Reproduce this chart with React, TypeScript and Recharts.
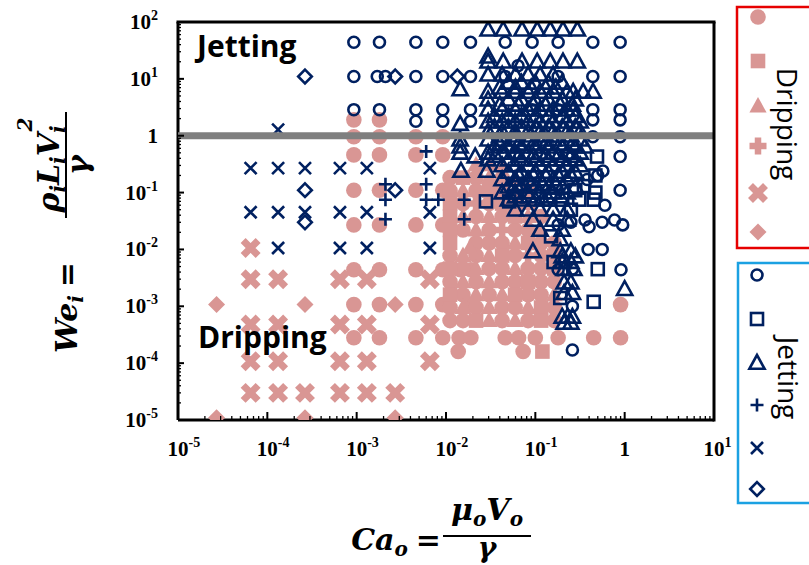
import React from 'react';
import { ScatterChart, Scatter, XAxis, YAxis } from 'recharts';

type Pt = [number, number];

const NAVY = '#002060';
const PINK = '#D99694';

// axis ticks
const xMajor = [1e-5, 1e-4, 1e-3, 1e-2, 1e-1, 1, 10];
const xMajorLabels: [string, string][] = [
  ['10', '-5'], ['10', '-4'], ['10', '-3'], ['10', '-2'], ['10', '-1'], ['1', ''], ['10', '1'],
];
const yMajor = [1e-5, 1e-4, 1e-3, 1e-2, 1e-1, 1, 10, 100];
const yMajorLabels: [string, string][] = [
  ['10', '-5'], ['10', '-4'], ['10', '-3'], ['10', '-2'], ['10', '-1'], ['1', ''], ['10', '1'], ['10', '2'],
];

// boundary We = 1
const boundaryCa = [1e-5, 10];
const boundaryWe = [1, 1];

// ---------- Dripping (filled, pink) ----------
const dripCircle: Pt[] = [
  [9.3e-4, 1.9], [1.8e-3, 1.9],
  [9.3e-4, 0.96], [1.8e-3, 0.96], [4.6e-3, 0.96], [9.2e-3, 0.96],
  [9.3e-4, 0.46], [1.8e-3, 0.46], [4.6e-3, 0.46], [9.2e-3, 0.46],
  [9.3e-4, 0.11], [1.8e-3, 0.11], [4.6e-3, 0.11], [9.2e-3, 0.11],
  [9.3e-4, 0.027], [1.8e-3, 0.027], [4.6e-3, 0.027], [9.2e-3, 0.027],
  [9.3e-4, 0.0044], [1.8e-3, 0.0044], [4.6e-3, 0.0044], [9.2e-3, 0.0044], [1.45e-2, 0.0044], [1.9e-2, 0.0044],
  [9.3e-4, 0.00107], [1.8e-3, 0.00107], [4.6e-3, 0.00107], [9.2e-3, 0.00107], [1.9e-2, 0.00107],
  [9.3e-4, 2.8e-4], [1.8e-3, 2.8e-4], [4.6e-3, 2.8e-4], [9.2e-3, 2.8e-4], [1.4e-2, 2.8e-4],
  [1.9e-2, 2.8e-4], [4.6e-2, 2.8e-4], [6.5e-2, 2.8e-4], [0.1, 2.8e-4], [0.18, 2.8e-4], [0.45, 2.8e-4], [0.9, 2.8e-4],
  [0.9, 0.00107], [1.37e-2, 1.6e-4], [7.3e-2, 1.6e-4],
  [0.0111, 0.183], [0.0217, 0.183], [0.0425, 0.183],
  [0.0111, 0.108], [0.0217, 0.108], [0.0425, 0.108], [0.083, 0.108],
  [0.0155, 0.064], [0.0304, 0.064], [0.0594, 0.064],
  [0.0217, 0.038], [0.0425, 0.038], [0.116, 0.038],
  [0.0155, 0.022], [0.0304, 0.022], [0.0594, 0.022], [0.083, 0.022],
  [0.0217, 0.013], [0.0304, 0.013], [0.0425, 0.013], [0.116, 0.013], [0.163, 0.013],
  [0.0111, 0.0078], [0.0217, 0.0078], [0.0594, 0.0078], [0.116, 0.0078],
  [0.0155, 0.0046], [0.0304, 0.0046], [0.0425, 0.0046], [0.083, 0.0046], [0.116, 0.0046],
  [0.0111, 0.0027], [0.0217, 0.0027], [0.0425, 0.0027], [0.0594, 0.0027], [0.116, 0.0027], [0.163, 0.0027],
  [0.0155, 0.0016], [0.0304, 0.0016], [0.083, 0.0016], [0.116, 0.0016],
  [0.0111, 9.5e-4], [0.0217, 9.5e-4], [0.0425, 9.5e-4], [0.0594, 9.5e-4], [0.163, 9.5e-4],
  [0.0111, 5.6e-4], [0.0155, 5.6e-4], [0.0425, 5.6e-4], [0.083, 5.6e-4], [0.163, 5.6e-4],
];
const dripSquare: Pt[] = [
  [0.0155, 0.183], [0.0304, 0.108], [0.0111, 0.064], [0.0425, 0.064], [0.0111, 0.038], [0.0594, 0.038],
  [0.0111, 0.022], [0.0111, 0.013], [0.083, 0.013], [0.0425, 0.0078], [0.163, 0.0078],
  [0.0111, 0.0046], [0.163, 0.0046], [0.083, 0.0027], [0.0111, 0.0016], [0.0594, 0.0016],
  [0.116, 9.5e-4], [0.0217, 5.6e-4], [0.116, 5.6e-4], [0.12, 1.6e-4],
];
const dripTriangle: Pt[] = [
  [0.0217, 0.31], [0.0304, 0.31], [0.0425, 0.31],
  [0.0304, 0.183], [0.0594, 0.183], [0.0155, 0.108], [0.0594, 0.108], [0.083, 0.064],
  [0.0155, 0.038], [0.0304, 0.038], [0.083, 0.038], [0.0217, 0.022], [0.116, 0.022],
  [0.0185, 0.0106], [0.0594, 0.013], [0.0155, 0.0078], [0.0304, 0.0078],
  [0.0217, 0.0046], [0.0594, 0.0046], [0.0155, 0.0027], [0.0304, 0.0027],
  [0.0217, 0.0016], [0.0425, 0.0016], [0.163, 0.0016],
  [0.0155, 9.5e-4], [0.0304, 9.5e-4], [0.083, 9.5e-4], [0.0304, 5.6e-4], [0.0594, 5.6e-4],
];
const dripPlus: Pt[] = [[0.0217, 0.064], [0.0425, 0.022], [0.083, 0.0078]];
const dripCross: Pt[] = [
  [6.5e-5, 0.0106],
  [6.5e-5, 0.003], [1.32e-4, 0.003], [6.5e-4, 0.003], [1.3e-3, 0.003], [6.6e-3, 0.003],
  [6.5e-5, 4.8e-4], [1.32e-4, 4.8e-4], [6.5e-4, 4.8e-4], [1.3e-3, 4.8e-4], [6.6e-3, 4.8e-4],
  [6.5e-5, 1.08e-4], [1.32e-4, 1.08e-4], [6.5e-4, 1.08e-4], [1.3e-3, 1.08e-4], [6.6e-3, 1.08e-4],
  [6.5e-5, 3e-5], [1.32e-4, 3e-5], [2.64e-4, 3e-5], [6.5e-4, 3e-5], [1.3e-3, 3e-5], [2.7e-3, 3e-5],
];
const dripDiamond: Pt[] = [
  [2.7e-5, 1.07e-3], [2.64e-4, 1.07e-3], [2.7e-3, 1.07e-3],
  [2.7e-5, 1.1e-5], [2.64e-4, 1.1e-5], [2.7e-3, 1.1e-5],
];

// ---------- Jetting (open, navy) ----------
const jetCircle: Pt[] = [
  [9.3e-4, 44], [1.8e-3, 44], [4.6e-3, 44], [9.2e-3, 44], [1.88e-2, 44], [4.6e-2, 44], [9.2e-2, 44], [0.18, 44], [0.44, 44], [0.89, 44],
  [9.3e-4, 11], [1.7e-3, 11], [2.1e-3, 11], [4.6e-3, 11], [9.2e-3, 11], [1.88e-2, 11], [4.6e-2, 11], [0.064, 17], [0.18, 11], [0.44, 11], [0.89, 11],
  [9.3e-4, 2.87], [1.8e-3, 2.87], [4.6e-3, 2.87], [9.2e-3, 2.87], [1.88e-2, 2.87], [0.092, 2.87], [0.18, 2.87], [0.44, 2.87], [0.89, 2.87],
  [4.6e-3, 1.8], [9.2e-3, 1.8], [1.88e-2, 1.8], [0.44, 1.9], [0.89, 1.9],
  [0.44, 0.96], [0.89, 0.96], [0.89, 0.43], [0.57, 0.24], [0.5, 0.2], [0.38, 0.17], [0.89, 0.11],
  [0.6, 0.06], [0.36, 0.033], [0.4, 0.025], [0.56, 0.03], [0.77, 0.033], [0.95, 0.027], [0.18, 0.027], [0.25, 0.03],
  [0.39, 0.01], [0.56, 0.01], [0.18, 0.0044], [0.26, 0.0045], [0.91, 0.0044], [0.26, 0.001], [0.26, 1.7e-4],
];
const jetSquare: Pt[] = [
  [0.028, 0.07], [0.051, 0.07], [0.146, 0.075], [0.2, 0.075], [0.31, 0.075], [0.45, 0.075],
  [0.49, 0.43], [0.47, 0.1], [0.28, 0.11], [0.15, 0.017], [0.16, 0.006], [0.5, 0.0045],
  [0.19, 0.0014], [0.45, 0.0012], [0.47, 0.2], [0.35, 0.13], [0.25, 0.05],
];
const jetTriangle: Pt[] = [
  [0.0296, 73], [0.0437, 73], [0.071, 73], [0.105, 73], [0.147, 73], [0.204, 73], [0.295, 73],
  [0.0296, 24.5],
  [0.0296, 20], [0.0437, 20], [0.071, 20], [0.105, 20], [0.147, 20], [0.204, 20], [0.295, 20],
  [0.0296, 11.8], [0.0425, 11.8], [0.06, 11.8], [0.083, 11.8], [0.113, 11.8], [0.158, 11.8],
  [0.05, 8.5], [0.07, 8.5], [0.1, 8.5], [0.14, 8.5], [0.2, 8.5],
  [0.04, 7], [0.06, 7], [0.09, 7], [0.13, 7], [0.17, 7],
  [0.0144, 6.5], [0.0296, 5.9], [0.0425, 5.9], [0.0594, 5.9], [0.083, 5.9], [0.113, 5.9], [0.158, 5.9],
  [0.227, 5.9], [0.265, 5.9], [0.343, 5.9], [0.443, 5.9],
  [0.0296, 4.3], [0.05, 4.3], [0.07, 4.3], [0.1, 4.3], [0.14, 4.3], [0.2, 4.3], [0.28, 4.3],
  [0.04, 3.5], [0.065, 3.5], [0.095, 3.5], [0.13, 3.5], [0.19, 3.5], [0.26, 3.5],
  [0.0296, 2.87], [0.0425, 2.87], [0.0594, 2.87], [0.083, 2.87], [0.113, 2.87], [0.158, 2.87], [0.227, 2.87], [0.265, 2.87],
  [0.035, 2.2], [0.05, 2.2], [0.07, 2.2], [0.1, 2.2], [0.14, 2.2], [0.2, 2.2], [0.28, 2.2],
  [0.0144, 1.6], [0.0296, 1.76], [0.0425, 1.76], [0.0594, 1.76], [0.083, 1.76], [0.113, 1.76], [0.158, 1.76], [0.227, 1.76], [0.318, 1.76],
  [0.035, 1.4], [0.05, 1.4], [0.07, 1.4], [0.1, 1.4], [0.14, 1.4], [0.2, 1.4], [0.28, 1.4],
  [0.0296, 1.18], [0.0425, 1.18], [0.0594, 1.18], [0.083, 1.18], [0.113, 1.18], [0.158, 1.18], [0.227, 1.18], [0.318, 1.18],
  [0.04, 1.0], [0.06, 1.0], [0.09, 1.0], [0.13, 1.0], [0.18, 1.0], [0.25, 1.0],
  [0.0144, 0.85], [0.0296, 0.85], [0.0425, 0.85], [0.0594, 0.85], [0.083, 0.85], [0.113, 0.85], [0.158, 0.85], [0.227, 0.85], [0.318, 0.85],
  [0.04, 0.72], [0.065, 0.72], [0.095, 0.72], [0.13, 0.72], [0.19, 0.72], [0.26, 0.72],
  [0.0144, 0.64], [0.035, 0.64], [0.05, 0.64], [0.07, 0.64], [0.1, 0.64], [0.14, 0.64], [0.2, 0.64], [0.28, 0.64], [0.36, 0.64],
  [0.0144, 0.5], [0.0212, 0.43], [0.0296, 0.5], [0.0425, 0.5], [0.0594, 0.5], [0.083, 0.5], [0.113, 0.5], [0.158, 0.5], [0.227, 0.5], [0.318, 0.5],
  [0.036, 0.44], [0.065, 0.44], [0.095, 0.44], [0.13, 0.44], [0.18, 0.44], [0.25, 0.44],
  [0.0296, 0.38], [0.05, 0.38], [0.07, 0.38], [0.1, 0.38], [0.14, 0.38], [0.2, 0.38], [0.28, 0.38],
  [0.0425, 0.3], [0.0594, 0.3], [0.083, 0.3], [0.113, 0.3], [0.158, 0.3], [0.227, 0.3], [0.318, 0.3],
  [0.0147, 0.24], [0.0286, 0.24], [0.05, 0.23], [0.07, 0.23], [0.1, 0.23], [0.14, 0.23], [0.2, 0.23], [0.28, 0.23],
  [0.065, 0.2], [0.095, 0.2], [0.13, 0.2], [0.18, 0.2], [0.25, 0.2],
  [0.0425, 0.17], [0.0594, 0.17], [0.083, 0.17], [0.113, 0.17], [0.158, 0.17], [0.227, 0.17],
  [0.06, 0.14], [0.09, 0.14], [0.12, 0.14], [0.17, 0.14],
  [0.05, 0.127], [0.07, 0.127], [0.1, 0.127], [0.14, 0.127], [0.2, 0.127], [0.28, 0.127],
  [0.0425, 0.1], [0.0594, 0.1], [0.083, 0.1], [0.113, 0.1], [0.158, 0.1], [0.227, 0.1],
  [0.06, 0.085], [0.085, 0.085], [0.135, 0.085], [0.19, 0.085],
  [0.05, 0.075], [0.07, 0.075], [0.1, 0.075], [0.12, 0.075],
  [0.06, 0.05], [0.083, 0.05], [0.113, 0.05], [0.158, 0.05], [0.227, 0.05],
  [0.094, 0.033], [0.158, 0.033], [0.227, 0.033], [0.113, 0.022], [0.2, 0.022], [0.19, 0.015],
  [0.094, 0.0092], [0.19, 0.0092], [0.25, 0.0092], [0.2, 0.0075], [0.28, 0.0075],
  [0.2, 0.006], [0.25, 0.006], [0.21, 0.0045], [0.27, 0.0045], [0.21, 0.0026], [0.25, 0.0026],
  [0.21, 0.0017], [0.26, 0.0017], [1.0, 0.002],
  [0.2, 6.5e-4], [0.23, 6.5e-4], [0.26, 6.5e-4], [0.21, 5.1e-4], [0.25, 5.1e-4],
];
const jetPlus: Pt[] = [
  [6e-3, 0.53], [2.1e-3, 0.14], [2.1e-3, 0.075], [2.1e-3, 0.034], [6e-3, 0.14],
  [6e-3, 0.075], [8.2e-3, 0.075], [1.6e-2, 0.075], [1.6e-2, 0.034],
];
const jetCross: Pt[] = [
  [6.5e-5, 0.27], [1.32e-4, 0.27], [2.64e-4, 0.27], [6.5e-4, 0.27], [1.3e-3, 0.27], [6.6e-3, 0.27],
  [6.5e-5, 0.045], [1.32e-4, 0.045], [2.64e-4, 0.045], [6.5e-4, 0.045], [1.3e-3, 0.045], [6.6e-3, 0.045],
  [1.32e-4, 0.0106], [6.5e-4, 0.0106], [1.3e-3, 0.0106], [6.6e-3, 0.0106],
  [1.32e-4, 1.28],
];
const jetDiamond: Pt[] = [
  [2.64e-4, 11], [2.7e-3, 11], [1.34e-2, 11], [2.64e-4, 0.11], [2.7e-3, 0.11], [2.64e-4, 0.03],
];

const toXY = (pts: Pt[]) => pts.map(([x, y]) => ({ x, y }));

const decadeMinors = (from: number, to: number) => {
  const out: number[] = [];
  for (let k = from; k < to; k++) for (let m = 2; m <= 9; m++) out.push(m * Math.pow(10, k));
  return out;
};
const xTicks = [...xMajor, ...decadeMinors(-5, 1)].sort((a, b) => a - b);
const yTicks = [...yMajor, ...decadeMinors(-5, 2)].sort((a, b) => a - b);

const majorIndex = (list: number[], v: number) =>
  list.findIndex((m) => Math.abs(Math.log10(m) - Math.log10(v)) < 1e-6);

const TICK_FONT = "'Liberation Serif', 'Times New Roman', serif";
const MATH_FONT = "'DejaVu Serif', serif";

const renderXTick = (props: any) => {
  const { x, y, payload } = props;
  const i = majorIndex(xMajor, payload.value);
  if (i < 0) return <line x1={x} x2={x} y1={y} y2={y - 4} stroke="#000" strokeWidth={1.3} />;
  const [base, sup] = xMajorLabels[i];
  return (
    <g>
      <line x1={x} x2={x} y1={y} y2={y - 8} stroke="#000" strokeWidth={2} />
      <text x={x} y={y + 36} textAnchor="middle" fontFamily={TICK_FONT} fontWeight={700} fontSize={21} fill="#000">
        {base}
      </text>
      {sup && (
        <text x={x + 10.5} y={y + 27} fontFamily={TICK_FONT} fontWeight={700} fontSize={14} fill="#000">
          {sup}
        </text>
      )}
    </g>
  );
};

const renderYTick = (props: any) => {
  const { x, y, payload } = props;
  const i = majorIndex(yMajor, payload.value);
  if (i < 0) return <line x1={x} x2={x + 3} y1={y} y2={y} stroke="#000" strokeWidth={1.3} />;
  const [base, sup] = yMajorLabels[i];
  return (
    <g>
      <line x1={x} x2={x + 6} y1={y} y2={y} stroke="#000" strokeWidth={2} />
      <text x={x - 20} y={y + 7} textAnchor="end" fontFamily={TICK_FONT} fontWeight={700} fontSize={21} fill="#000">
        {base}
        {sup && <tspan fontSize={14} dy={-9}>{sup}</tspan>}
      </text>
    </g>
  );
};

// marker drawings
const SW = 2.6;
const draw = {
  openCircle: (cx: number, cy: number) => <circle cx={cx} cy={cy} r={5.5} fill="none" stroke={NAVY} strokeWidth={SW} />,
  openSquare: (cx: number, cy: number) => (
    <rect x={cx - 6} y={cy - 6} width={12} height={12} fill="none" stroke={NAVY} strokeWidth={SW} />
  ),
  openTriangle: (cx: number, cy: number) => (
    <polygon points={`${cx},${cy - 8} ${cx - 7.6},${cy + 5.8} ${cx + 7.6},${cy + 5.8}`} fill="none" stroke={NAVY} strokeWidth={SW} />
  ),
  thinPlus: (cx: number, cy: number) => (
    <path d={`M${cx - 6.5},${cy}H${cx + 6.5}M${cx},${cy - 6.5}V${cy + 6.5}`} stroke={NAVY} strokeWidth={SW} />
  ),
  thinCross: (cx: number, cy: number) => (
    <path d={`M${cx - 6},${cy - 6}L${cx + 6},${cy + 6}M${cx - 6},${cy + 6}L${cx + 6},${cy - 6}`} stroke={NAVY} strokeWidth={SW} />
  ),
  openDiamond: (cx: number, cy: number) => (
    <polygon points={`${cx},${cy - 6.8} ${cx + 6.8},${cy} ${cx},${cy + 6.8} ${cx - 6.8},${cy}`} fill="none" stroke={NAVY} strokeWidth={SW} />
  ),
  fillCircle: (cx: number, cy: number) => <circle cx={cx} cy={cy} r={7.8} fill={PINK} />,
  fillSquare: (cx: number, cy: number) => <rect x={cx - 7.3} y={cy - 7.3} width={14.6} height={14.6} fill={PINK} />,
  fillTriangle: (cx: number, cy: number) => (
    <polygon points={`${cx},${cy - 9} ${cx - 8.6},${cy + 6.5} ${cx + 8.6},${cy + 6.5}`} fill={PINK} />
  ),
  fatPlus: (cx: number, cy: number) => (
    <path d={`M${cx - 8.5},${cy}H${cx + 8.5}M${cx},${cy - 8.5}V${cy + 8.5}`} stroke={PINK} strokeWidth={6.5} />
  ),
  fatCross: (cx: number, cy: number) => (
    <path d={`M${cx - 7.5},${cy - 7.5}L${cx + 7.5},${cy + 7.5}M${cx - 7.5},${cy + 7.5}L${cx + 7.5},${cy - 7.5}`} stroke={PINK} strokeWidth={7} />
  ),
  fillDiamond: (cx: number, cy: number) => (
    <polygon points={`${cx},${cy - 8.5} ${cx + 8.5},${cy} ${cx},${cy + 8.5} ${cx - 8.5},${cy}`} fill={PINK} />
  ),
};
type Kind = keyof typeof draw;
const shapeOf = (k: Kind) => (p: any) => draw[k](p.cx, p.cy);

const series: { name: string; pts: Pt[]; kind: Kind }[] = [
  { name: 'd-circle', pts: dripCircle, kind: 'fillCircle' },
  { name: 'd-square', pts: dripSquare, kind: 'fillSquare' },
  { name: 'd-triangle', pts: dripTriangle, kind: 'fillTriangle' },
  { name: 'd-plus', pts: dripPlus, kind: 'fatPlus' },
  { name: 'd-cross', pts: dripCross, kind: 'fatCross' },
  { name: 'd-diamond', pts: dripDiamond, kind: 'fillDiamond' },
  { name: 'j-circle', pts: jetCircle, kind: 'openCircle' },
  { name: 'j-square', pts: jetSquare, kind: 'openSquare' },
  { name: 'j-triangle', pts: jetTriangle, kind: 'openTriangle' },
  { name: 'j-plus', pts: jetPlus, kind: 'thinPlus' },
  { name: 'j-cross', pts: jetCross, kind: 'thinCross' },
  { name: 'j-diamond', pts: jetDiamond, kind: 'openDiamond' },
];

const dripLegend: Kind[] = ['fillCircle', 'fillSquare', 'fillTriangle', 'fatPlus', 'fatCross', 'fillDiamond'];
const jetLegend: Kind[] = ['openCircle', 'openSquare', 'openTriangle', 'thinPlus', 'thinCross', 'openDiamond'];
const dripLegendY = [17, 61, 106, 146, 193, 232];
const jetLegendY = [275, 319, 363, 405, 448, 489];

const boundary = boundaryCa.map((x, i) => ({ x, y: boundaryWe[i] }));

const mathText = { fontFamily: MATH_FONT, fontWeight: 700, fontStyle: 'italic' as const, fontSize: 30, fill: '#000' };

export default function App() {
  return (
    <div style={{ position: 'absolute', left: 0, top: 0, width: 809, height: 565, background: '#fff' }}>
      <ScatterChart width={809} height={565} margin={{ top: 22, right: 95, bottom: 0, left: 0 }}>
        <XAxis
          type="number"
          dataKey="x"
          scale="log"
          domain={[1e-5, 10]}
          allowDataOverflow
          ticks={xTicks}
          interval={0}
          tick={renderXTick}
          tickLine={false}
          tickSize={0}
          tickMargin={0}
          axisLine={{ stroke: '#000', strokeWidth: 3 }}
          height={145}
        />
        <YAxis
          type="number"
          dataKey="y"
          scale="log"
          domain={[1e-5, 100]}
          allowDataOverflow
          ticks={yTicks}
          interval={0}
          tick={renderYTick}
          tickLine={false}
          tickSize={0}
          tickMargin={0}
          axisLine={{ stroke: '#000', strokeWidth: 3 }}
          width={178}
        />
        {series.map((s) => (
          <Scatter key={s.name} name={s.name} data={toXY(s.pts)} shape={shapeOf(s.kind)} isAnimationActive={false} />
        ))}
        <Scatter
          name="boundary"
          data={boundary}
          line={{ stroke: '#7F7F7F', strokeWidth: 7 }}
          shape={() => <g />}
          isAnimationActive={false}
        />
      </ScatterChart>

      <svg width={809} height={565} style={{ position: 'absolute', left: 0, top: 0, pointerEvents: 'none' }}>
        <line x1={176.5} y1={22} x2={715.5} y2={22} stroke="#000" strokeWidth={3} />
        <line x1={714} y1={22} x2={714} y2={421.5} stroke="#000" strokeWidth={3} />

        <text x={197} y={57} fontFamily="'Open Sans', sans-serif" fontWeight={700} fontSize={30} fill="#000">
          Jetting
        </text>
        <text x={198} y={348} fontFamily="'Open Sans', sans-serif" fontWeight={700} fontSize={30} fill="#000">
          Dripping
        </text>

        {/* x title */}
        <g transform="translate(487,536)">
          <line x1={-44} x2={44} y1={0} y2={0} stroke="#000" strokeWidth={2} />
          <text x={0} y={-16} textAnchor="middle" {...mathText}>
            μ<tspan fontSize={20} dy={6}>o</tspan>
            <tspan dy={-6}>V</tspan>
            <tspan fontSize={20} dy={6}>o</tspan>
          </text>
          <text x={0} y={21} textAnchor="middle" {...mathText} fontSize={28}>γ</text>
          <text x={-46} y={14} textAnchor="end" {...mathText}>
            Ca<tspan fontSize={20} dy={6}>o</tspan>
            <tspan dx={8} dy={-6}>=</tspan>
          </text>
        </g>

        {/* y title */}
        <g transform="translate(66,165) rotate(-90)">
          <line x1={-53} x2={53} y1={0} y2={0} stroke="#000" strokeWidth={2} />
          <text x={0} y={-7} textAnchor="middle" {...mathText}>
            ρ<tspan fontSize={20} dy={6}>i</tspan>
            <tspan dy={-6}>L</tspan>
            <tspan fontSize={20} dy={6}>i</tspan>
            <tspan dy={-6}>V</tspan>
            <tspan fontSize={20} dy={6}>i</tspan>
            <tspan fontSize={20} dx={-6} dy={-33}>2</tspan>
          </text>
          <text x={0} y={22} textAnchor="middle" {...mathText}>γ</text>
          <text x={-97} y={11} textAnchor="end" {...mathText}>
            We<tspan fontSize={20} dy={6}>i</tspan>
            <tspan dx={8} dy={-6}>=</tspan>
          </text>
        </g>

        {/* legends */}
        <rect x={737} y={7} width={120} height={241} fill="none" stroke="#E60000" strokeWidth={2.5} />
        {dripLegend.map((k, i) => (
          <g key={k}>{draw[k](758, dripLegendY[i])}</g>
        ))}
        <text
          transform="translate(777,124) rotate(90)"
          textAnchor="middle"
          fontFamily="'Open Sans', sans-serif"
          fontSize={28}
          fill="#000"
        >
          Dripping
        </text>
        <rect x={738} y={263} width={120} height={240} fill="none" stroke="#1BA1E2" strokeWidth={2.5} />
        {jetLegend.map((k, i) => (
          <g key={k}>{draw[k](757, jetLegendY[i])}</g>
        ))}
        <text
          transform="translate(778,378) rotate(90)"
          textAnchor="middle"
          fontFamily="'Open Sans', sans-serif"
          fontSize={28}
          fill="#000"
        >
          Jetting
        </text>
      </svg>
    </div>
  );
}
